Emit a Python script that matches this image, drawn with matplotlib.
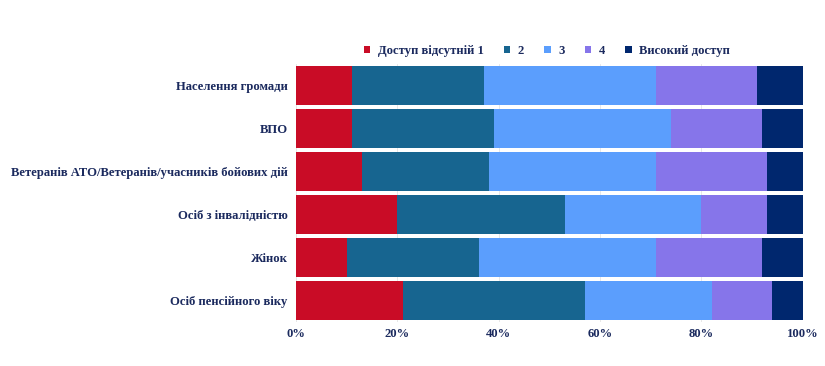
import matplotlib.pyplot as plt
import numpy as np

plt.rcParams["font.family"] = ["Liberation Serif", "DejaVu Serif"]
plt.rcParams["font.weight"] = "bold"

TEXT_COLOR = "#1B2A5E"

categories = ["Населення громади", "ВПО",
              "Ветеранів АТО/Ветеранів/учасників бойових дій",
              "Осіб з інвалідністю", "Жінок", "Осіб пенсійного віку"]
series_names = ["Доступ відсутній 1", "2", "3", "4", "Високий доступ"]
colors = ["#C90C26", "#176590", "#5B9EFD", "#8675EA", "#00276E"]

level_1 = [11, 11, 13, 20, 10, 21]
level_2 = [26, 28, 25, 33, 26, 36]
level_3 = [34, 35, 33, 27, 35, 25]
level_4 = [20, 18, 22, 13, 21, 12]
level_5 = [9, 8, 7, 7, 8, 6]
values = [level_1, level_2, level_3, level_4, level_5]

xticks = [0, 20, 40, 60, 80, 100]
xtick_labels = ["0%", "20%", "40%", "60%", "80%", "100%"]

fig = plt.figure(figsize=(8.25, 3.66), dpi=100)
ax = fig.add_axes([0.359, 0.12, 0.614, 0.705])

y = np.arange(len(categories))
left = np.zeros(len(categories))
for name, vals, c in zip(series_names, values, colors):
    ax.barh(y, vals, left=left, height=0.92, color=c, label=name, zorder=2)
    left += np.array(vals)

ax.set_xlim(0, 100)
ax.set_ylim(len(categories) - 0.5, -0.5)
ax.set_yticks(y)
ax.set_yticklabels(categories, fontsize=9.1, color=TEXT_COLOR)
ax.set_xticks(xticks)
ax.set_xticklabels(xtick_labels, fontsize=9.1, color=TEXT_COLOR)
ax.tick_params(axis="y", length=0, pad=6)
ax.tick_params(axis="x", length=0, pad=4)
ax.grid(axis="x", color="#e4e4e4", linewidth=0.6, zorder=0)
for s in ax.spines.values():
    s.set_visible(False)

fig.legend(loc="center", bbox_to_anchor=(0.663, 0.86), ncol=5, frameon=False,
           fontsize=9.1, handlelength=0.5, handleheight=0.5, handletextpad=0.6,
           columnspacing=1.6, labelcolor=TEXT_COLOR)

fig.savefig("out.png", dpi=100)
